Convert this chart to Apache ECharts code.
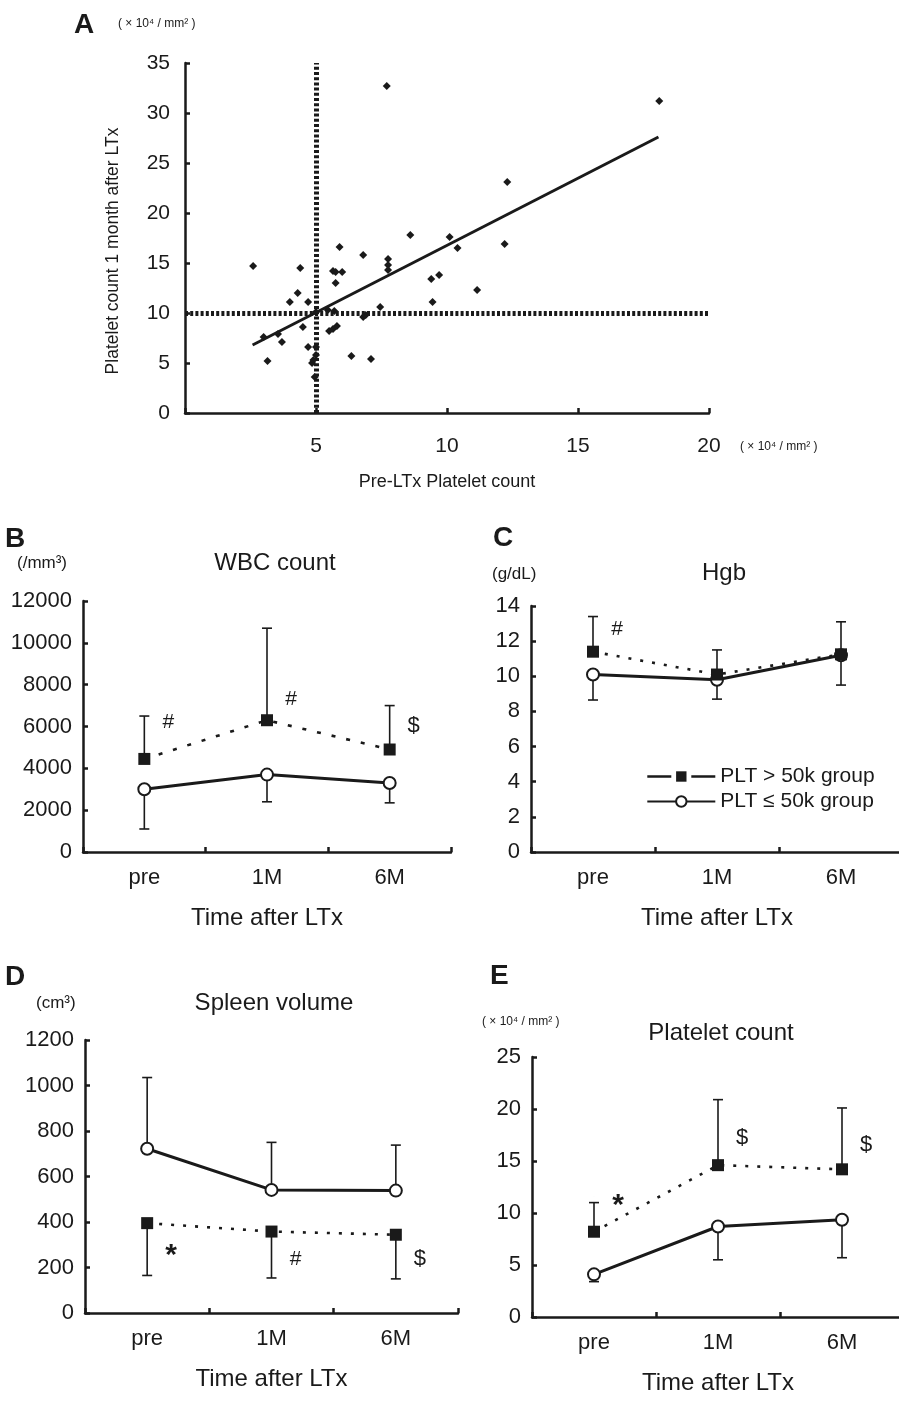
<!DOCTYPE html>
<html><head><meta charset="utf-8">
<script src="https://cdn.jsdelivr.net/npm/echarts@6/dist/echarts.min.js"></script>
<style>html,body{margin:0;padding:0;background:#fff}#c{width:899px;height:1402px}</style>
</head><body><div id="c"></div>
<script>
// ---------- DATA ----------
const timeCats = ['pre', '1M', '6M'];

// Panel A: pre-LTx platelet count (x) vs platelet count 1 month after LTx (y), x10^4/mm2
const aPoints = [
  [7.7, 32.7], [18.1, 31.2], [12.3, 23.1], [2.6, 14.7], [4.4, 14.5], [5.9, 16.6], [6.8, 15.8],
  [8.6, 17.8], [10.1, 17.6], [10.4, 16.5], [12.2, 16.9], [7.75, 15.4], [7.75, 14.8], [7.75, 14.3],
  [5.65, 14.2], [5.75, 14.1], [6.0, 14.1], [5.75, 13.0], [4.3, 12.0], [4.0, 11.1], [4.7, 11.1],
  [9.4, 13.4], [9.7, 13.8], [9.45, 11.1], [11.15, 12.3], [5.0, 10.1], [5.45, 10.3], [5.7, 10.2],
  [6.8, 9.6], [7.45, 10.6], [6.9, 9.8], [4.5, 8.6], [3.55, 7.9], [3.0, 7.6], [3.7, 7.1],
  [5.5, 8.2], [5.8, 8.7], [5.65, 8.4], [4.7, 6.6], [3.15, 5.2], [4.85, 5.0], [4.9, 5.3],
  [4.95, 3.6], [6.35, 5.7], [7.1, 5.4], [5.0, 6.6], [5.0, 5.8]
];
const aFit = [[2.58, 6.8], [18.07, 27.6]];
const aCutX = 5;
const aCutY = 10;

// Panel B: WBC count (/mm3)
const wbcHigh = [4450, 6300, 4900];
const wbcHighErr = [6500, 10700, 7000];
const wbcLow = [3000, 3700, 3300];
const wbcLowErr = [1100, 2400, 2350];
const wbcMarks = [['pre', 6200, '#'], ['1M', 7300, '#'], ['6M', 6050, '$']];

// Panel C: Hgb (g/dL)
const hgbHigh = [11.4, 10.1, 11.25];
const hgbHighErr = [13.4, 11.5, 13.1];
const hgbLow = [10.1, 9.8, 11.2];
const hgbLowErr = [8.65, 8.7, 9.5];
const hgbMarks = [['pre', 12.7, '#']];

// Panel D: Spleen volume (cm3)
const spleenHigh = [395, 358, 344];
const spleenHighErr = [165, 154, 150];
const spleenLow = [722, 541, 538];
const spleenLowErr = [1035, 750, 738];
const spleenMarks = [['pre', 290, '*'], ['1M', 237, '#'], ['6M', 237, '$']];

// Panel E: Platelet count (x10^4/mm2)
const pltHigh = [8.2, 14.6, 14.2];
const pltHighErr = [11.0, 20.9, 20.1];
const pltLow = [4.1, 8.7, 9.35];
const pltLowErr = [3.4, 5.5, 5.7];
const pltMarks = [['pre', 11.6, '*'], ['1M', 17.2, '$'], ['6M', 16.5, '$']];

const nameHigh = 'PLT > 50k group';
const nameLow = 'PLT \u2264 50k group';

// ---------- STYLE ----------
const INK = '#1a1a1a';
const FONT = "'Liberation Sans', Arial, Helvetica, sans-serif";

const chart = echarts.init(document.getElementById('c'), null, {renderer: 'canvas'});

function axisBase(extra) {
  return Object.assign({
    axisLine: {show: true, lineStyle: {color: INK, width: 2.5}},
    axisTick: {show: true, inside: true, length: 5, lineStyle: {color: INK, width: 2.5}},
    splitLine: {show: false},
    axisLabel: {color: INK, fontSize: 22, fontFamily: FONT},
    nameTextStyle: {color: INK, fontFamily: FONT}
  }, extra);
}

function errRender(params, api) {
  const c = api.value(0), v = api.value(1), e = api.value(2);
  const p0 = api.coord([c, v]);
  const p1 = api.coord([c, e]);
  const w = 5;
  const st = {stroke: INK, lineWidth: 1.6};
  return {type: 'group', children: [
    {type: 'line', shape: {x1: p0[0], y1: p0[1], x2: p1[0], y2: p1[1]}, style: st},
    {type: 'line', shape: {x1: p1[0] - w, y1: p1[1], x2: p1[0] + w, y2: p1[1]}, style: st}
  ]};
}

function markLabel(t) {
  if (t === '*') return {fontSize: 30, fontWeight: 'bold', offset: [24, 9]};
  if (t === '$') return {fontSize: 22};
  return {fontSize: 21};
}

function panelSeries(gi, high, highErr, low, lowErr, marks, dash) {
  return [
    {type: 'custom', name: 'errH' + gi, xAxisIndex: gi, yAxisIndex: gi, z: 1, silent: true,
      renderItem: errRender, encode: {x: 0, y: [1, 2]},
      data: high.map((v, i) => [i, v, highErr[i]])},
    {type: 'custom', name: 'errL' + gi, xAxisIndex: gi, yAxisIndex: gi, z: 1, silent: true,
      renderItem: errRender, encode: {x: 0, y: [1, 2]},
      data: low.map((v, i) => [i, v, lowErr[i]])},
    {type: 'line', name: nameLow, xAxisIndex: gi, yAxisIndex: gi, z: 3,
      data: low, symbol: 'emptyCircle', symbolSize: 12,
      lineStyle: {color: INK, width: 3},
      itemStyle: {color: INK, borderColor: INK, borderWidth: 1.7}},
    {type: 'line', name: nameHigh, xAxisIndex: gi, yAxisIndex: gi, z: 4,
      data: high, symbol: 'rect', symbolSize: 12,
      lineStyle: {color: INK, width: 2.6, type: dash},
      itemStyle: {color: INK}},
    {type: 'scatter', name: 'mk' + gi, xAxisIndex: gi, yAxisIndex: gi, z: 5, silent: true,
      symbolSize: 0.1, itemStyle: {color: INK, opacity: 1},
      data: marks.map(m => ({value: [m[0], m[1]], name: m[2], label: markLabel(m[2])})),
      label: {show: true, position: 'inside', offset: [24, 0], formatter: '{b}',
        color: INK, fontSize: 21, fontFamily: FONT}}
  ];
}

const catAxis = (gi) => axisBase({type: 'category', gridIndex: gi, data: timeCats, boundaryGap: true,
  name: 'Time after LTx', nameLocation: 'middle', nameGap: 54,
  nameTextStyle: {color: INK, fontSize: 24, fontFamily: FONT},
  axisLabel: {color: INK, fontSize: 22, fontFamily: FONT, margin: 15}});

const valAxis = (gi, max, interval) => axisBase({type: 'value', gridIndex: gi, min: 0, max: max, interval: interval,
  axisLabel: {color: INK, fontSize: 22, fontFamily: FONT, margin: 11, formatter: v => String(v)}});

function txt(x, y, text, size, opts) {
  return {type: 'text', x: x, y: y, silent: true,
    style: {text: text, fill: INK, font: (opts && opts.bold ? 'bold ' : '') + size + 'px ' + FONT,
      textAlign: (opts && opts.align) || 'left', textVerticalAlign: 'middle'}};
}

const unit4 = '( \u00d7 10\u2074 / mm\u00b2 )';

const option = {
  animation: false,
  backgroundColor: '#fff',
  grid: [
    {left: 185, top: 63, width: 524, height: 350, outerBoundsMode: 'none'},
    {left: 83, top: 601, width: 368, height: 251, outerBoundsMode: 'none'},
    {left: 531, top: 606, width: 372, height: 246, outerBoundsMode: 'none'},
    {left: 85, top: 1040, width: 373, height: 273, outerBoundsMode: 'none'},
    {left: 532, top: 1057, width: 372, height: 260, outerBoundsMode: 'none'}
  ],
  xAxis: [
    axisBase({type: 'value', gridIndex: 0, min: 0, max: 20, interval: 5,
      name: 'Pre-LTx Platelet count', nameLocation: 'middle', nameGap: 60,
      nameTextStyle: {color: INK, fontSize: 18, fontFamily: FONT},
      axisLabel: {color: INK, fontSize: 21, fontFamily: FONT, margin: 23,
        formatter: v => (v === 0 ? '' : String(v))}}),
    catAxis(1), catAxis(2), catAxis(3), catAxis(4)
  ],
  yAxis: [
    axisBase({type: 'value', gridIndex: 0, min: 0, max: 35, interval: 5,
      name: 'Platelet count 1 month after LTx', nameLocation: 'middle', nameGap: 63,
      nameTextStyle: {color: INK, fontSize: 17.5, fontFamily: FONT, padding: [0, 26, 0, 0]},
      axisLabel: {color: INK, fontSize: 21, fontFamily: FONT, margin: 15, formatter: v => String(v)}}),
    valAxis(1, 12000, 2000), valAxis(2, 14, 2), valAxis(3, 1200, 200), valAxis(4, 25, 5)
  ],
  legend: {
    left: 641, top: 761, orient: 'vertical', itemGap: 4, itemWidth: 68, itemHeight: 13,
    selectedMode: false,
    textStyle: {color: INK, fontSize: 21, fontFamily: FONT},
    data: [
      {name: nameHigh, lineStyle: {type: [24, 20], width: 2.6, color: INK}},
      {name: nameLow}
    ]
  },
  graphic: [
    txt(74, 25, 'A', 28, {bold: true}),
    txt(118, 24, unit4, 12),
    txt(740, 447, unit4, 12),
    txt(5, 539, 'B', 28, {bold: true}),
    txt(17, 563, '(/mm\u00b3)', 17),
    txt(275, 563, 'WBC count', 24, {align: 'center'}),
    txt(493, 538, 'C', 28, {bold: true}),
    txt(492, 574, '(g/dL)', 17),
    txt(724, 573, 'Hgb', 24, {align: 'center'}),
    txt(5, 977, 'D', 28, {bold: true}),
    txt(36, 1003, '(cm\u00b3)', 17),
    txt(274, 1003, 'Spleen volume', 24, {align: 'center'}),
    txt(490, 976, 'E', 28, {bold: true}),
    txt(482, 1022, unit4, 12),
    txt(721, 1033, 'Platelet count', 24, {align: 'center'})
  ],
  series: [
    {type: 'scatter', name: 'A points', xAxisIndex: 0, yAxisIndex: 0, data: aPoints,
      symbol: 'diamond', symbolSize: 8, itemStyle: {color: INK, opacity: 1}, z: 3,
      markLine: {symbol: 'none', silent: true, label: {show: false},
        lineStyle: {color: INK, width: 5, type: [3, 2.2]},
        data: [{xAxis: aCutX}, {yAxis: aCutY}]}},
    {type: 'line', name: 'A fit', xAxisIndex: 0, yAxisIndex: 0, data: aFit, symbol: 'none',
      lineStyle: {color: INK, width: 3}, z: 4},
    ...panelSeries(1, wbcHigh, wbcHighErr, wbcLow, wbcLowErr, wbcMarks, [4, 11]),
    ...panelSeries(2, hgbHigh, hgbHighErr, hgbLow, hgbLowErr, hgbMarks, [3, 9]),
    ...panelSeries(3, spleenHigh, spleenHighErr, spleenLow, spleenLowErr, spleenMarks, [3, 9]),
    ...panelSeries(4, pltHigh, pltHighErr, pltLow, pltLowErr, pltMarks, [3, 9])
  ]
};
chart.setOption(option);
</script></body></html>
